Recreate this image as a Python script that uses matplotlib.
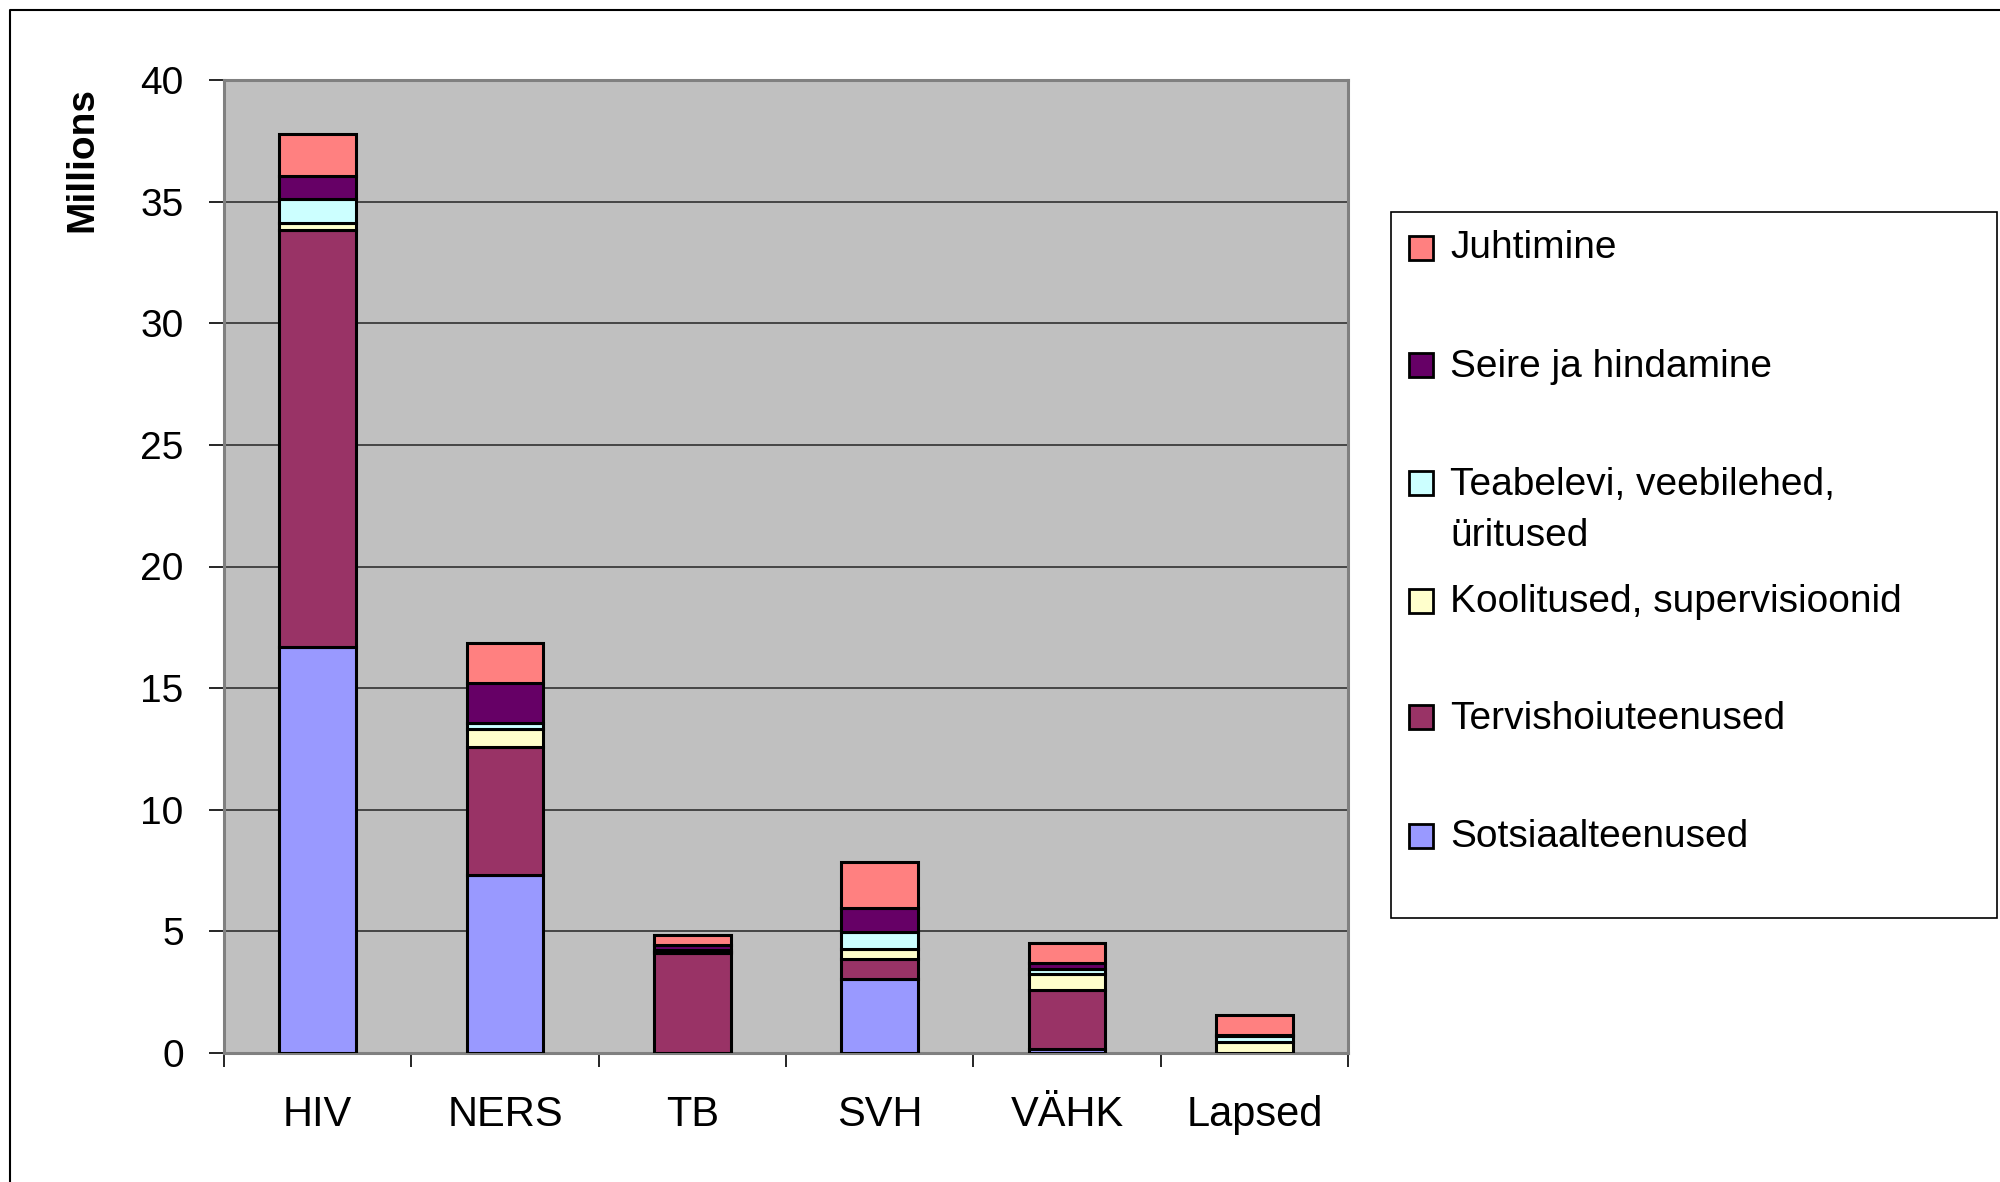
import matplotlib
matplotlib.use("Agg")
import matplotlib.pyplot as plt
from matplotlib.patches import Rectangle
from matplotlib.lines import Line2D
import numpy as np

plt.rcParams['font.family'] = ['Liberation Sans', 'DejaVu Sans']

categories = ['HIV', 'NERS', 'TB', 'SVH', 'VÄHK', 'Lapsed']
sotsiaal = [16.7, 7.32, 0.0, 3.03, 0.15, 0.0]
tervis = [17.15, 5.24, 4.12, 0.83, 2.45, 0.0]
koolitus = [0.29, 0.74, 0.05, 0.43, 0.66, 0.44]
teabelevi = [0.96, 0.25, 0.05, 0.68, 0.20, 0.26]
seire = [0.96, 1.65, 0.20, 0.98, 0.25, 0.02]
juhtimine = [1.70, 1.66, 0.43, 1.91, 0.82, 0.86]

series_names = ['Sotsiaalteenused', 'Tervishoiuteenused', 'Koolitused, supervisioonid',
                'Teabelevi, veebilehed,\nüritused', 'Seire ja hindamine', 'Juhtimine']
series_values = [sotsiaal, tervis, koolitus, teabelevi, seire, juhtimine]
colors = ['#9999FF', '#993366', '#FFFFCC', '#CCFFFF', '#660066', '#FF8080']
y_ticks = [0, 5, 10, 15, 20, 25, 30, 35, 40]

W, H = 2000, 1182
fig = plt.figure(figsize=(20, 11.82), dpi=100)
fig.patch.set_facecolor('white')

def fx(px):
    return px / W

def fy(py):
    return 1 - py / H

ax = fig.add_axes([fx(224), fy(1053), fx(1348) - fx(224), fy(80) - fy(1053)])
ax.set_facecolor('#C0C0C0')

x = np.arange(len(categories))
bottom = np.zeros(len(categories))
for name, vals, c in zip(series_names, series_values, colors):
    v = np.array(vals)
    ax.bar(x, v, 0.41, bottom=bottom, color=c, edgecolor='black', linewidth=2.2, zorder=3)
    bottom += v

ax.set_xlim(-0.5, len(categories) - 0.5)
ax.set_ylim(0, 40)
ax.set_yticks(y_ticks)
ax.set_yticklabels([str(t) for t in y_ticks], fontsize=28)
ax.yaxis.grid(True, color='#303030', linewidth=1.2, zorder=1)
ax.set_axisbelow(True)
ax.tick_params(axis='y', direction='out', length=11, width=1.2, pad=18, color='black')

ax.set_xticks(x)
ax.set_xticklabels(categories, fontsize=30)
ax.set_xticks(np.arange(-0.5, len(categories)), minor=True)
ax.tick_params(axis='x', which='major', length=0, pad=30)
ax.tick_params(axis='x', which='minor', direction='out', length=10, width=1.2, color='black')

for s in ax.spines.values():
    s.set_color('#808080')
    s.set_linewidth(2.2)

fig.text(fx(82), fy(159), 'Millions', rotation=90, fontsize=28, fontweight='bold',
         ha='center', va='center')

# legend box
fig.add_artist(Rectangle((fx(1391), fy(918)), fx(1997) - fx(1391), fy(212) - fy(918),
                         transform=fig.transFigure, facecolor='white', edgecolor='black',
                         linewidth=1.2))
leg_order = [5, 4, 3, 2, 1, 0]
marker_centers = [248, 365, 483, 601, 717, 836]
baselines = [258, 377, 546, 612, 729, 847]
sq = 24
for i, mc, bl in zip(leg_order, marker_centers, baselines):
    fig.add_artist(Rectangle((fx(1421 - sq / 2), fy(mc + sq / 2)), sq / W, sq / H,
                             transform=fig.transFigure, facecolor=colors[i],
                             edgecolor='black', linewidth=2.0))
    fig.text(fx(1450), fy(bl), series_names[i], fontsize=28, ha='left', va='baseline',
             linespacing=1.52)

# outer border (left and top)
fig.add_artist(Line2D([fx(10), fx(10), fx(2000)], [fy(1182), fy(10), fy(10)],
                      transform=fig.transFigure, color='black', linewidth=1.5))

fig.savefig('out.png', dpi=100, facecolor='white')
